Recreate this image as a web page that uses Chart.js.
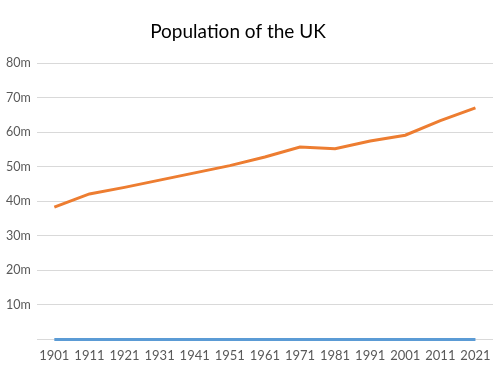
<!DOCTYPE html>
<html>
<head>
<meta charset="utf-8">
<script src="https://cdn.jsdelivr.net/npm/chart.js@4"></script>
<style>
  html, body { margin: 0; padding: 0; background: #fff; }
  #wrap { width: 500px; height: 375px; }
</style>
</head>
<body>
<div id="wrap"><canvas id="popChart" width="500" height="375"></canvas></div>
<script>
const years = ["1901", "1911", "1921", "1931", "1941", "1951", "1961", "1971", "1981", "1991", "2001", "2011", "2021"];
// population (people)
const population = [38.3e6, 42.1e6, 44.0e6, 46.1e6, 48.2e6, 50.3e6, 52.8e6, 55.7e6, 55.2e6, 57.4e6, 59.1e6, 63.3e6, 67.0e6];
// second series sits on the zero line (the year column plotted as values)
const yearSeries = [1901, 1911, 1921, 1931, 1941, 1951, 1961, 1971, 1981, 1991, 2001, 2011, 2021];
const yTicks = [0, 10e6, 20e6, 30e6, 40e6, 50e6, 60e6, 70e6, 80e6];

const chartTitle = "Population of the UK";
const labelFont = "Lato, 'Open Sans', sans-serif";

// draw the title a bit left of centre, like the original
const titlePlugin = {
  id: "titleText",
  afterDraw(chart) {
    const ctx = chart.ctx;
    ctx.save();
    ctx.font = "19px " + labelFont;
    ctx.fillStyle = "#000";
    ctx.textAlign = "center";
    ctx.textBaseline = "middle";
    ctx.fillText(chartTitle, 238, 32);
    ctx.restore();
  }
};

const ctx = document.getElementById("popChart").getContext("2d");
const chart = new Chart(ctx, {
  type: "line",
  data: {
    labels: years,
    datasets: [
      {
        label: "Year",
        data: yearSeries,
        borderColor: "#5B9BD5",
        borderWidth: 3,
        pointRadius: 0,
        tension: 0,
        clip: 4
      },
      {
        label: "Population",
        data: population,
        borderColor: "#ED7D31",
        borderWidth: 3,
        pointRadius: 0,
        tension: 0
      }
    ]
  },
  options: {
    responsive: false,
    animation: false,
    layout: { padding: { top: 63, right: 7, left: 0, bottom: 2 } },
    plugins: {
      legend: { display: false },
      tooltip: { enabled: false }
    },
    scales: {
      x: {
        offset: true,
        grid: { display: false, drawTicks: false },
        border: { display: false },
        ticks: {
          color: "#595959",
          font: { family: labelFont, size: 13 },
          padding: 9,
          maxRotation: 0,
          autoSkip: false
        }
      },
      y: {
        min: 0,
        max: 80e6,
        afterBuildTicks(axis) {
          axis.ticks = yTicks.map(v => ({ value: v }));
        },
        grid: { color: "#d9d9d9", drawTicks: false, lineWidth: 1 },
        border: { display: false },
        ticks: {
          color: "#595959",
          font: { family: labelFont, size: 12.5 },
          padding: 6,
          callback: v => (v === 0 ? "" : (v / 1e6) + "m")
        }
      }
    }
  },
  plugins: [titlePlugin]
});
</script>
</body>
</html>
